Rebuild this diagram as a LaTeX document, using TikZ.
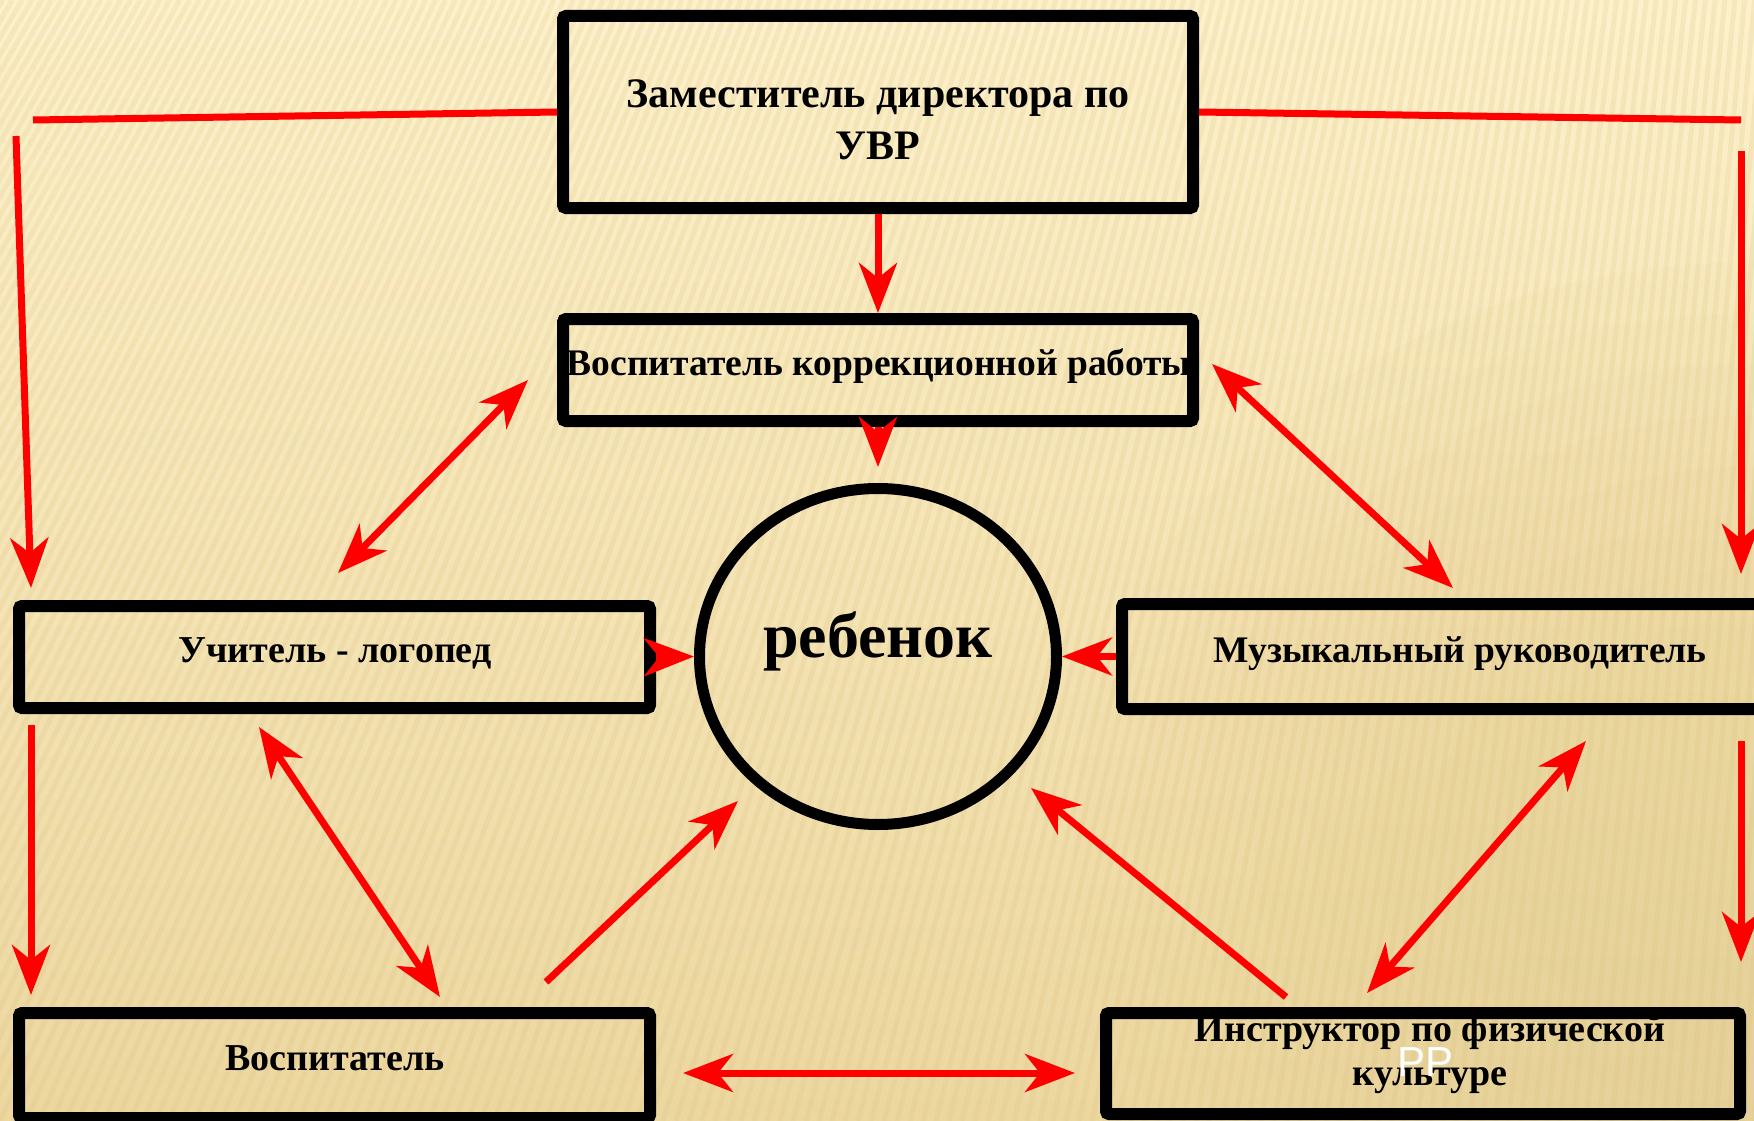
\documentclass[tikz,border=0pt]{standalone}
\usepackage{fontspec}
\setmainfont{Liberation Serif}
\newfontfamily\rrfont{Liberation Sans}
\usetikzlibrary{arrows.meta,shapes.geometric}
\definecolor{bgA}{HTML}{FDF1CB}
\definecolor{bgB}{HTML}{FCEDC3}
\definecolor{bgC}{HTML}{ECD7A0}
\definecolor{bgD}{HTML}{E6CF92}
\definecolor{stripecol}{HTML}{D9BD78}
\definecolor{arrowred}{HTML}{FF0000}
\begin{document}
\begin{tikzpicture}[x=1pt,y=-1pt,
  box/.style={draw=black, line width=12pt, rounded corners=3pt, inner sep=0pt},
  txt/.style={inner sep=0pt, align=center, font=\bfseries\fontsize{38}{44}\selectfont, text=black},
  redline/.style={draw=arrowred, line width=7pt},
  arr/.style={redline, -{Stealth[length=50pt,width=38pt,inset=15pt]}},
  darr/.style={redline, {Stealth[length=50pt,width=38pt,inset=15pt]}-{Stealth[length=50pt,width=38pt,inset=15pt]}}
]
\useasboundingbox (0,0) rectangle (1754,1121);
\clip (0,0) rectangle (1754,1121);
% background
\shade[top color=bgA, middle color=bgB, bottom color=bgC] (0,0) rectangle (1754,1121);
\foreach \r in {680,620,560,500,440,380,320,260} {
  \fill[bgD, opacity=0.07] (1754,840) ellipse ({\r} and {\r*0.85});
}
\foreach \i in {-72,...,136} {
  \pgfmathsetmacro\xo{\i*13}
  \pgfmathsetmacro\xt{\xo+(0.45-0.38*\xo/1754)*1121}
  \draw[stripecol, opacity=0.18, line width=5pt] (\xo,1121) -- (\xt,0);
}
% boxes
\node[box, minimum width=630pt, minimum height=192pt] (zam) at (878,112) {};
\node[box, minimum width=630pt, minimum height=102pt] (vkr) at (878,370) {};
\node[box, minimum width=631pt, minimum height=102pt] (logo) at (334.5,657) {};
\node[box, minimum width=678pt, minimum height=105pt] (music) at (1461,656.5) {};
\node[box, minimum width=631pt, minimum height=105pt] (vosp) at (334.5,1065.5) {};
\node[box, minimum width=634pt, minimum height=101pt] (instr) at (1423,1063.5) {};
\node[draw=black, line width=11pt, ellipse, inner sep=0pt, minimum width=357pt, minimum height=336pt] (child) at (878,656.5) {};
% texts
\node[txt, anchor=base, font=\bfseries\fontsize{42}{52}\selectfont] (zamt) at (878,160) {Заместитель директора по\\УВР};
\node[txt, anchor=base, font=\bfseries\fontsize{37.5}{44}\selectfont] (vkrt) at (879,375) {Воспитатель коррекционной работы};
\node[txt, anchor=base] (logot) at (335,662) {Учитель - логопед};
\node[txt, anchor=base, font=\bfseries\fontsize{37.5}{44}\selectfont] (musict) at (1460,662) {Музыкальный руководитель};
\node[txt, anchor=base] (vospt) at (335,1070) {Воспитатель};
\node[txt, anchor=base] (instrt) at (1430,1085) {Инструктор по физической\\культуре};
\node[inner sep=0pt, anchor=center, font=\bfseries\fontsize{64}{70}\selectfont] (childt) at (878,641) {ребенок};
\node[inner sep=0pt, anchor=base, text=white, font=\rrfont\fontsize{42}{44}\selectfont] (rr) at (1425,1076) {РР};
% free connector ends
\coordinate (cL1) at (33,120);
\coordinate (cL2) at (16,136);
\coordinate (cL3) at (31,588);
\coordinate (cR1) at (1741,120);
\coordinate (cR2) at (1741,151);
\coordinate (cR3) at (1741,574);
\coordinate (cC1) at (878,467);
\coordinate (cD1) at (528,380);
\coordinate (cD2) at (338,573);
\coordinate (cD3) at (1212,364);
\coordinate (cD4) at (1453,588);
\coordinate (cL4) at (31,725);
\coordinate (cL5) at (31,995);
\coordinate (cD5) at (259,727);
\coordinate (cD6) at (440,997);
\coordinate (cV1) at (546,982);
\coordinate (cV2) at (738,801);
\coordinate (cI1) at (1286,997);
\coordinate (cI2) at (1031,788);
\coordinate (cD7) at (1586,741);
\coordinate (cD8) at (1367,993);
\coordinate (cR4) at (1741,741);
\coordinate (cR5) at (1741,962);
\coordinate (cB1) at (683,1073);
\coordinate (cB2) at (1075,1073);
% connectors
\draw[redline] (zam.west) -- (cL1);
\draw[arr] (cL2) -- (cL3);
\draw[redline] (zam.east) -- (cR1);
\draw[arr] (cR2) -- (cR3);
\draw[arr] (zam.south) -- (vkr.north);
\draw[arr] (vkr.south) -- (cC1);
\draw[darr] (cD1) -- (cD2);
\draw[darr] (cD3) -- (cD4);
\draw[arr] (logo.east) -- (child.west);
\draw[arr] (music.west) -- (child.east);
\draw[arr] (cL4) -- (cL5);
\draw[darr] (cD5) -- (cD6);
\draw[arr] (cV1) -- (cV2);
\draw[arr] (cI1) -- (cI2);
\draw[darr] (cD7) -- (cD8);
\draw[arr] (cR4) -- (cR5);
\draw[darr] (cB1) -- (cB2);
\end{tikzpicture}
\end{document}
